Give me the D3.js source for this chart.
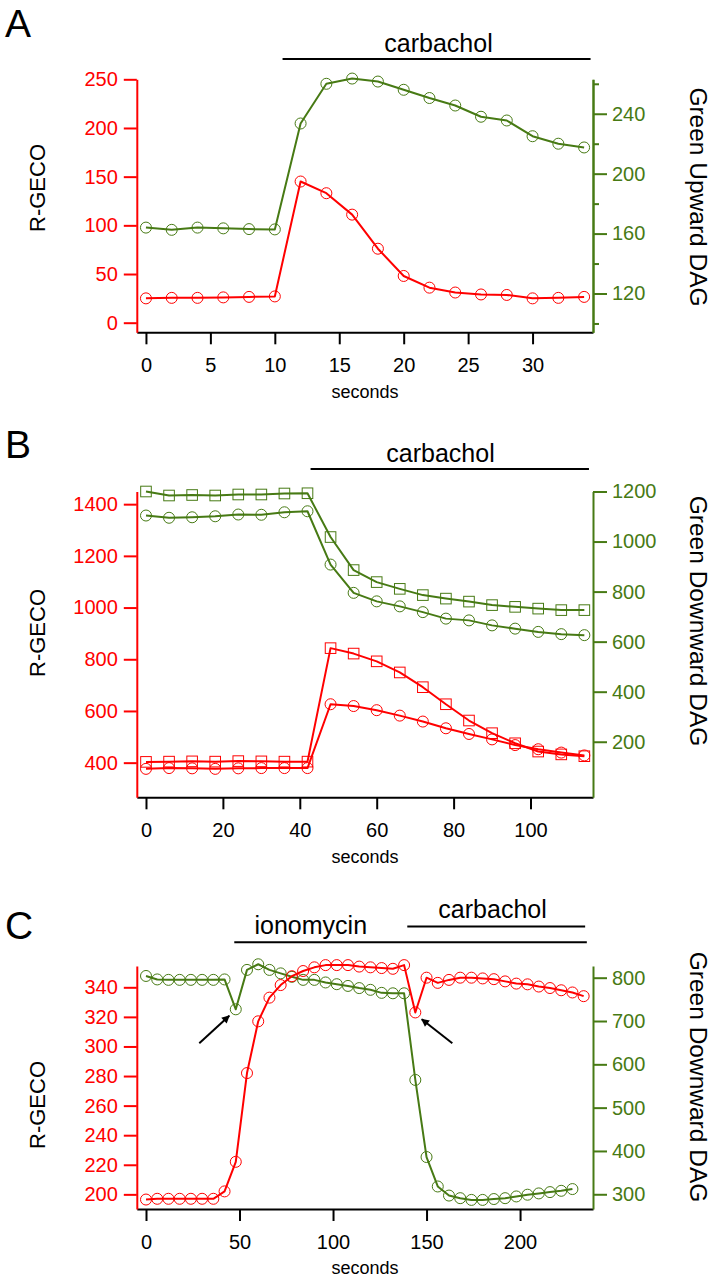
<!DOCTYPE html>
<html>
<head>
<meta charset="utf-8">
<script src="https://cdn.jsdelivr.net/npm/d3@7"></script>
<style>
  body { margin: 0; background: #fff; }
  svg text { font-family: "Liberation Sans", Arial, sans-serif; }
</style>
</head>
<body>
<svg id="fig" width="716" height="1280"></svg>
<script>
// ---- data ----

// Panel A
const secondsA = [0, 2, 4, 6, 8, 10, 12, 14, 16, 18, 20, 22, 24, 26, 28, 30, 32, 34];
const rgecoA   = [25, 25.5, 25.5, 26, 26.5, 27, 145, 133, 111, 76, 48, 36, 31, 29, 28.5, 25, 25.5, 26.5];
const greenUpA = [164, 162.5, 164, 163.5, 163, 162.8, 233.5, 260, 263.5, 261.5, 256, 250.5, 245.5, 238, 235.5, 225, 220, 217.5];

// Panel B (two cells: squares and circles)
const secondsB      = [0, 6, 12, 18, 24, 30, 36, 42, 48, 54, 60, 66, 72, 78, 84, 90, 96, 102, 108, 114];
const rgecoBsquare  = [403, 404, 405, 404, 406, 405, 404, 404, 843, 822, 792, 749, 692, 626, 563, 514, 475, 443, 432, 425];
const rgecoBcircle  = [376, 379, 378, 376, 378, 379, 379, 379, 626, 619, 603, 582, 559, 533, 511, 490, 468, 452, 439, 428];
const greenBsquare  = [1200, 1184, 1186, 1184, 1188, 1188, 1192, 1193, 1018, 886, 838, 811, 786, 772, 760, 746, 739, 732, 726, 726];
const greenBcircle  = [1104, 1095, 1097, 1101, 1108, 1107, 1117, 1121, 908, 795, 761, 741, 718, 692, 685, 665, 652, 639, 630, 626];

// Panel C
const secondsC = [0, 6, 12, 18, 24, 30, 36, 42, 48, 54, 60, 66, 72, 78, 84, 90, 96, 102, 108, 114,
                  120, 126, 132, 138, 144, 150, 156, 162, 168, 174, 180, 186, 192, 198, 204, 210, 216, 222, 228, 234];
const rgecoC = [196.5, 197, 197, 197, 197, 197, 197, 202, 222, 282, 317, 333, 341.5, 347.5, 351, 353.5, 355, 355, 355, 354,
                353.5, 353, 352.5, 355, 323, 346.5, 343, 345, 346.5, 346.5, 346, 345.5, 344, 342.5, 342, 340.5, 339.5, 338, 336.5, 334];
const greenC = [804, 796, 795, 795, 795, 795, 795, 796, 727, 818, 831, 818, 810, 802, 795, 795, 789, 785, 781, 776,
                772, 765, 764, 764, 564, 386, 318, 297, 291, 287, 287, 289, 291, 295, 299, 302, 305, 308, 312];

// tick labels
const xTicksA = [0, 5, 10, 15, 20, 25, 30];
const leftTicksA = [0, 50, 100, 150, 200, 250];
const rightTicksA = [120, 160, 200, 240];
const rightMinorA = [100, 140, 180, 220, 260];

const xTicksB = [0, 20, 40, 60, 80, 100];
const leftTicksB = [400, 600, 800, 1000, 1200, 1400];
const rightTicksB = [200, 400, 600, 800, 1000, 1200];

const xTicksC = [0, 50, 100, 150, 200];
const leftTicksC = [200, 220, 240, 260, 280, 300, 320, 340];
const rightTicksC = [300, 400, 500, 600, 700, 800];

const RED = "#ff0000";
const GREEN = "#477a14";
const FONT = "'Liberation Sans', Arial, sans-serif";
const fmt = d3.format("d");

const svg = d3.select("#fig");

svg.append("defs").append("marker")
    .attr("id", "arrowhead")
    .attr("viewBox", "0 0 10 10")
    .attr("refX", 9).attr("refY", 5)
    .attr("markerUnits", "userSpaceOnUse")
    .attr("markerWidth", 11).attr("markerHeight", 8)
    .attr("orient", "auto")
  .append("path")
    .attr("d", "M0,0 L10,5 L0,10 z")
    .attr("fill", "#000");

const panels = [
  {
    letter: "A", letterY: 37,
    box: { l: 136.8, r: 593, t: 79.3, b: 332.3 },
    xDomain: [-0.71, 34.69], lDomain: [-9.86, 250], rDomain: [94.1, 263],
    xTicks: xTicksA, lTicks: leftTicksA, rTicks: rightTicksA, rMinor: rightMinorA,
    lTitleY: 188, rTitle: "Green Upward DAG", rTitleY: 197,
    series: [
      { x: secondsA, y: greenUpA, axis: "right", color: GREEN, mark: "circle" },
      { x: secondsA, y: rgecoA, axis: "left", color: RED, mark: "circle" }
    ],
    bars: [ { label: "carbachol", from: 10.6, to: 34.5, at: 22.7, lineY: 59, textY: 51.5 } ],
    arrows: []
  },
  {
    letter: "B", letterY: 458,
    box: { l: 136.8, r: 593, t: 491.5, b: 797.3 },
    xDomain: [-2.39, 116.25], lDomain: [266, 1449], rDomain: [-22, 1200],
    xTicks: xTicksB, lTicks: leftTicksB, rTicks: rightTicksB, rMinor: [],
    lTitleY: 633, rTitle: "Green Downward DAG", rTitleY: 621,
    series: [
      { x: secondsB, y: greenBsquare, axis: "right", color: GREEN, mark: "square" },
      { x: secondsB, y: greenBcircle, axis: "right", color: GREEN, mark: "circle" },
      { x: secondsB, y: rgecoBsquare, axis: "left", color: RED, mark: "square" },
      { x: secondsB, y: rgecoBcircle, axis: "left", color: RED, mark: "circle" }
    ],
    bars: [ { label: "carbachol", from: 42.8, to: 115.2, at: 76.6, lineY: 469, textY: 461.5 } ],
    arrows: []
  },
  {
    letter: "C", letterY: 939,
    box: { l: 136.8, r: 593, t: 966, b: 1209 },
    xDomain: [-4.92, 239], lDomain: [190.1, 354.4], rDomain: [266, 827],
    xTicks: xTicksC, lTicks: leftTicksC, rTicks: rightTicksC, rMinor: [],
    lTitleY: 1105, rTitle: "Green Downward DAG", rTitleY: 1077,
    series: [
      { x: secondsC, y: greenC, axis: "right", color: GREEN, mark: "circle" },
      { x: secondsC, y: rgecoC, axis: "left", color: RED, mark: "circle" }
    ],
    bars: [
      { label: "ionomycin", from: 47.2, to: 235.7, at: 88.1, lineY: 942.3, textY: 934.3 },
      { label: "carbachol", from: 139.7, to: 234.8, at: 185.3, lineY: 926.5, textY: 918.3 }
    ],
    // arrows point at a data point: [series index, point index], tip and tail offsets
    arrows: [
      { s: 0, i: 8, tip: [-6.5, 6.4], tail: [-36.5, 34] },
      { s: 1, i: 24, tip: [6.4, 6.8], tail: [37, 30.8] }
    ]
  }
];

function styleAxis(g, color, size) {
  g.attr("font-family", null).attr("font-size", null);
  g.selectAll(".domain").attr("stroke", color).attr("stroke-width", 2);
  g.selectAll(".tick line").attr("stroke", color).attr("stroke-width", 2);
  g.selectAll(".tick text").attr("fill", color).attr("font-size", size)
    .attr("font-family", FONT);
}

function drawPanel(p) {
  const g = svg.append("g");
  const x = d3.scaleLinear().domain(p.xDomain).range([p.box.l, p.box.r]);
  const yL = d3.scaleLinear().domain(p.lDomain).range([p.box.b, p.box.t]);
  const yR = d3.scaleLinear().domain(p.rDomain).range([p.box.b, p.box.t]);

  // traces
  p.series.forEach(s => {
    const y = s.axis === "left" ? yL : yR;
    const pts = s.y.map((v, i) => [s.x[i], v]);
    const line = d3.line().x(d => x(d[0])).y(d => y(d[1]));
    g.append("path").datum(pts)
      .attr("fill", "none")
      .attr("stroke", s.color)
      .attr("stroke-width", 2)
      .attr("stroke-linejoin", "round")
      .attr("d", line);

    if (s.mark === "circle") {
      g.selectAll(null).data(pts).enter().append("circle")
        .attr("cx", d => x(d[0])).attr("cy", d => y(d[1]))
        .attr("r", 5.5)
        .attr("fill", "none").attr("stroke", s.color).attr("stroke-width", 1);
    } else {
      g.selectAll(null).data(pts).enter().append("rect")
        .attr("x", d => x(d[0]) - 5.3).attr("y", d => y(d[1]) - 5.3)
        .attr("width", 10.6).attr("height", 10.6)
        .attr("fill", "none").attr("stroke", s.color).attr("stroke-width", 1);
    }
  });

  // axes
  const ax = g.append("g").attr("transform", `translate(0,${p.box.b})`)
    .call(d3.axisBottom(x).tickValues(p.xTicks).tickFormat(fmt)
      .tickSize(12).tickSizeOuter(0).tickPadding(14));
  styleAxis(ax, "#000", 20);

  const al = g.append("g").attr("transform", `translate(${p.box.l},0)`)
    .call(d3.axisLeft(yL).tickValues(p.lTicks).tickFormat(fmt)
      .tickSize(13).tickSizeOuter(0).tickPadding(6));
  styleAxis(al, RED, 20);

  if (p.rMinor.length) {
    const am = g.append("g").attr("transform", `translate(${p.box.r},0)`)
      .call(d3.axisRight(yR).tickValues(p.rMinor).tickSize(6).tickSizeOuter(0).tickFormat(""));
    styleAxis(am, GREEN, 20);
  }
  const ar = g.append("g").attr("transform", `translate(${p.box.r},0)`)
    .call(d3.axisRight(yR).tickValues(p.rTicks).tickFormat(fmt)
      .tickSize(14).tickSizeOuter(0).tickPadding(5));
  styleAxis(ar, GREEN, 20);

  // axis titles
  g.append("text")
    .attr("transform", `translate(45,${p.lTitleY}) rotate(-90)`)
    .attr("text-anchor", "middle")
    .attr("font-size", 22)
    .attr("fill", "#000")
    .text("R-GECO");

  g.append("text")
    .attr("transform", `translate(690,${p.rTitleY}) rotate(90)`)
    .attr("text-anchor", "middle")
    .attr("font-size", 24.5)
    .attr("fill", "#000")
    .text(p.rTitle);

  g.append("text")
    .attr("x", 365)
    .attr("y", p.box.b + 65.4)
    .attr("text-anchor", "middle")
    .attr("font-size", 18)
    .attr("fill", "#000")
    .text("seconds");

  // panel letter
  g.append("text")
    .attr("x", 5).attr("y", p.letterY)
    .attr("font-size", 39)
    .attr("fill", "#000")
    .text(p.letter);

  // treatment bars
  p.bars.forEach(b => {
    g.append("line")
      .attr("x1", x(b.from)).attr("x2", x(b.to))
      .attr("y1", b.lineY).attr("y2", b.lineY)
      .attr("stroke", "#000").attr("stroke-width", 2);
    g.append("text")
      .attr("x", x(b.at)).attr("y", b.textY)
      .attr("text-anchor", "middle")
      .attr("font-size", 25)
      .attr("fill", "#000")
      .text(b.label);
  });

  // arrows
  p.arrows.forEach(a => {
    const s = p.series[a.s];
    const y = s.axis === "left" ? yL : yR;
    const px = x(s.x[a.i]), py = y(s.y[a.i]);
    g.append("line")
      .attr("x1", px + a.tail[0]).attr("y1", py + a.tail[1])
      .attr("x2", px + a.tip[0]).attr("y2", py + a.tip[1])
      .attr("stroke", "#000").attr("stroke-width", 2)
      .attr("marker-end", "url(#arrowhead)");
  });
}

panels.forEach(drawPanel);
</script>
</body>
</html>
